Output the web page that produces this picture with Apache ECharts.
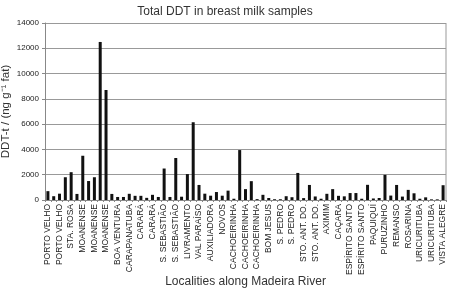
<!DOCTYPE html>
<html>
<head>
<meta charset="utf-8">
<script src="https://cdn.jsdelivr.net/npm/echarts@6/dist/echarts.min.js"></script>
<style>html,body{margin:0;padding:0;background:#fff;}#c{width:450px;height:293px;}</style>
</head>
<body>
<div id="c"></div>
<script>
var labels = ['PORTO VELHO','PORTO VELHO','STA. ROSA','MOANENSE','MOANENSE','MOANENSE','BOA VENTURA','CARAPANATUBA','CARARÁ','CARARÁ','S. SEBASTIÃO','S. SEBASTIÃO','LIVRAMENTO','VAL PARAÍSO','AUXILIADORA','NOVOS','CACHOEIRINHA','CACHOEIRINHA','CACHOEIRINHA','BOM JESUS','S. PEDRO','S. PEDRO','STO. ANT. DO.','STO. ANT. DO.','AXIMIM','CAÇARA','ESPÍRITO SANTO','ESPÍRITO SANTO','PAQUIQUÍ','PURUZINHO','REMANSO','ROSARINA','URICURITUBA','URICURITUBA','VISTA ALEGRE'];
var values = [700,300,500,1800,2200,480,3500,1500,1800,12500,8700,480,240,240,490,330,330,170,410,240,2490,240,3320,260,2050,6150,1190,500,340,630,340,740,100,3950,860,1490,70,410,160,60,60,300,220,2140,150,1190,280,100,490,860,330,290,550,550,100,1200,120,160,1990,350,1190,270,800,530,100,210,50,50,1170];
var yTicks = [0,2000,4000,6000,8000,10000,12000,14000];
var categories = values.map(function(v,i){ return i % 2 === 0 ? labels[i/2] : ''; });
var chart = echarts.init(document.getElementById('c'));
chart.setOption({
  animation:false,
  textStyle:{fontFamily:'Liberation Sans, Arial, sans-serif'},
  title:{text:'Total DDT in breast milk samples',left:'center',top:1,
    textStyle:{fontSize:12,fontWeight:'normal',color:'#333',fontFamily:'Liberation Sans, Arial, sans-serif'}},
  grid:{left:45,right:4,top:23,bottom:93,containLabel:false,outerBoundsMode:'none'},
  xAxis:{type:'category',data:categories,
    name:'Localities along Madeira River',nameLocation:'middle',nameGap:76,nameMoveOverlap:false,
    nameTextStyle:{fontSize:12,color:'#333'},
    axisLine:{lineStyle:{color:'#888'}},
    axisTick:{show:true,length:2,interval:0,lineStyle:{color:'#888'}},
    axisLabel:{rotate:90,interval:0,fontSize:8.5,color:'#222',margin:4}},
  yAxis:{type:'value',min:0,max:14000,interval:2000,
    name:'DDT-t / (ng g\u207B\u00B9 fat)',nameLocation:'middle',nameGap:33,nameMoveOverlap:false,
    nameTextStyle:{fontSize:11.5,color:'#333'},
    axisLine:{show:true,lineStyle:{color:'#888'}},
    axisTick:{show:true,length:3,lineStyle:{color:'#888'}},
    axisLabel:{fontSize:8,color:'#222',margin:6,formatter:function(v){return yTicks.indexOf(v)>=0?String(v):'';}},
    splitLine:{lineStyle:{color:'#999',width:1}}},
  series:[{type:'bar',data:values,barWidth:3,itemStyle:{color:'#111'}}],
  graphic:[{type:'line',shape:{x1:446,y1:23,x2:446,y2:200},style:{stroke:'#999',lineWidth:1}}]
});
</script>
</body>
</html>
